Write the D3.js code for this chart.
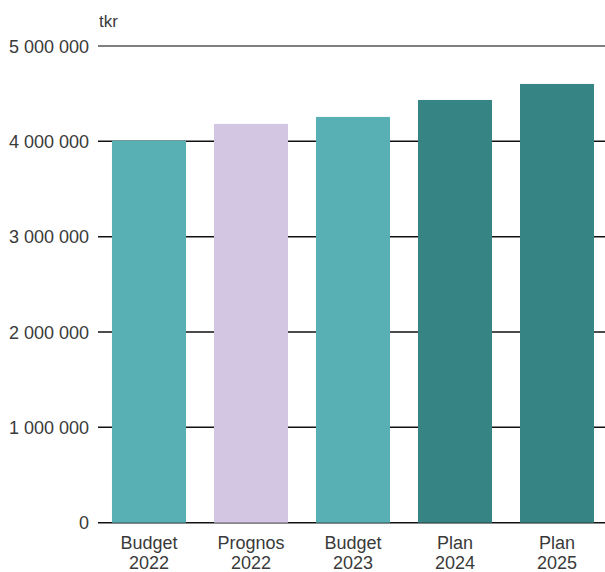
<!DOCTYPE html>
<html>
<head>
<meta charset="utf-8">
<script src="https://cdn.jsdelivr.net/npm/d3@7"></script>
<style>
  body { margin: 0; background: #fff; }
  text { font-family: "Liberation Sans", Arial, sans-serif; fill: #3a3a3a; }
</style>
</head>
<body>
<div id="chart"></div>
<script>
// Data (tkr)
const categories = [["Budget", "2022"], ["Prognos", "2022"], ["Budget", "2023"], ["Plan", "2024"], ["Plan", "2025"]];
const values = [4008000, 4183000, 4256000, 4434000, 4602000];
const barColors = ["#58b0b5", "#d3c6e2", "#58b0b5", "#368484", "#368484"];
const tickValues = [0, 1000000, 2000000, 3000000, 4000000, 5000000];
const unitLabel = "tkr";

const width = 605, height = 572;
const margin = {top: 46, right: 0, bottom: 49, left: 98};

const svg = d3.select("#chart")
    .append("svg")
    .attr("width", width)
    .attr("height", height);

const x = d3.scaleBand()
    .domain(d3.range(categories.length))
    .range([margin.left, 608])
    .paddingInner(0.2745)
    .paddingOuter(0.137);

const y = d3.scaleLinear()
    .domain([0, 5000000])
    .range([height - margin.bottom - 0.3, margin.top]);

const fmt = v => d3.format(",")(v).replace(/,/g, " ");

// Gridlines (drawn behind the bars)
svg.append("g")
    .selectAll("line")
    .data(tickValues)
    .enter()
    .append("line")
    .attr("x1", margin.left)
    .attr("x2", width)
    .attr("y1", d => y(d))
    .attr("y2", d => y(d))
    .attr("stroke", d => d === 5000000 ? "#7f7f7f" : "#111")
    .attr("stroke-width", d => d === 5000000 ? 2 : 1.5);

// Y tick labels
svg.append("g")
    .selectAll("text")
    .data(tickValues)
    .enter()
    .append("text")
    .attr("x", 89)
    .attr("y", d => y(d))
    .attr("dy", "0.37em")
    .attr("text-anchor", "end")
    .style("font-size", "18px")
    .text(d => fmt(d));

// Bars
svg.append("g")
    .selectAll("rect")
    .data(values)
    .enter()
    .append("rect")
    .attr("x", (d, i) => x(i))
    .attr("width", x.bandwidth())
    .attr("y", d => y(d))
    .attr("height", d => y(0) - y(d))
    .attr("fill", (d, i) => barColors[i]);

// X labels (two lines)
const xl = svg.append("g")
    .selectAll("text")
    .data(categories)
    .enter()
    .append("text")
    .attr("text-anchor", "middle")
    .style("font-size", "18px");

xl.append("tspan")
    .attr("x", (d, i) => x(i) + x.bandwidth() / 2)
    .attr("y", 549)
    .text(d => d[0]);

xl.append("tspan")
    .attr("x", (d, i) => x(i) + x.bandwidth() / 2)
    .attr("y", 569)
    .text(d => d[1]);

// Unit label
svg.append("text")
    .attr("x", 99)
    .attr("y", 27)
    .style("font-size", "17px")
    .text(unitLabel);
</script>
</body>
</html>
